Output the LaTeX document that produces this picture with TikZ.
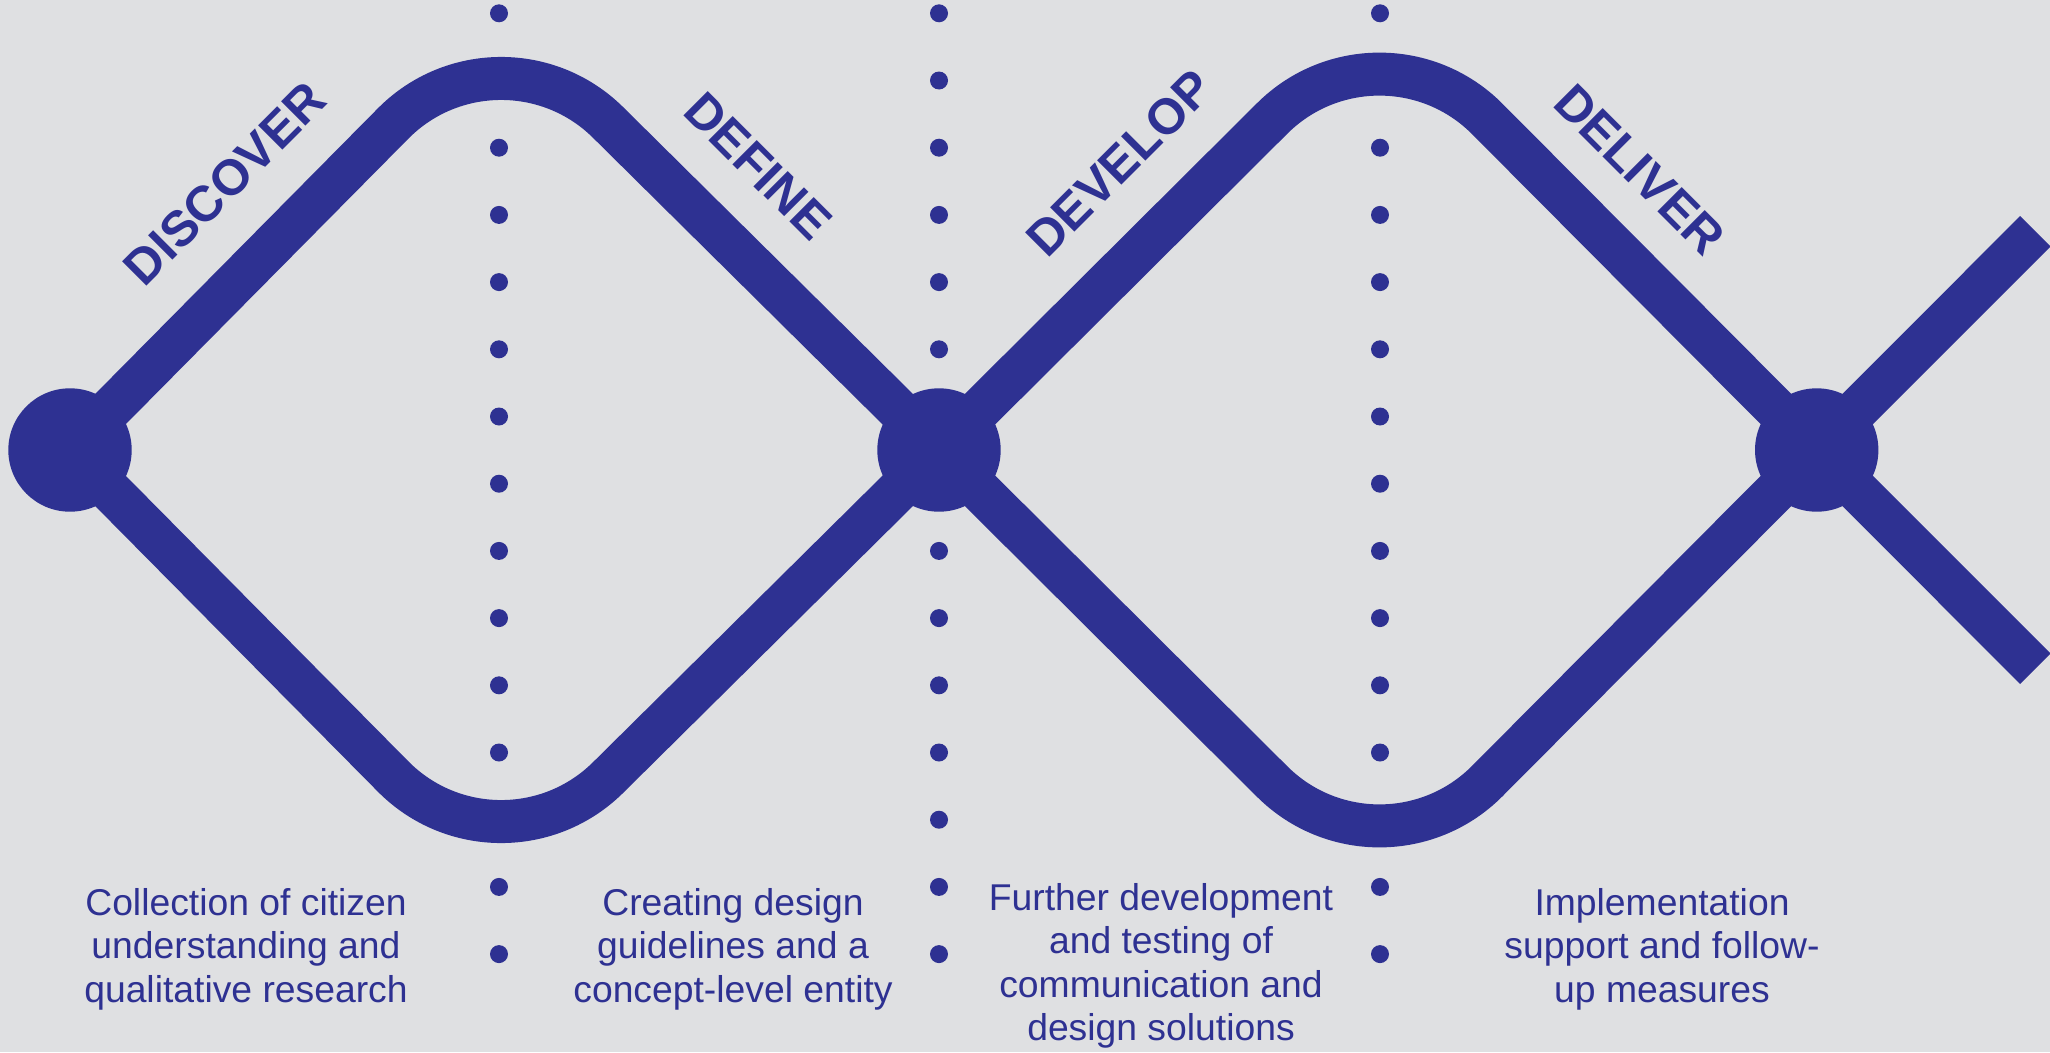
\documentclass[tikz,border=0pt]{standalone}
\usepackage{fontspec}
\setmainfont{Liberation Sans}
\definecolor{ink}{HTML}{2E3192}
\definecolor{paper}{HTML}{DFE0E2}

\begin{document}
\begin{tikzpicture}[x=1pt,y=-1pt,
  track/.style={draw=ink, line width=43pt, rounded corners=152pt},
  hub/.style={circle, fill=ink, minimum size=123.4pt, inner sep=0pt},
  phase/.style={text=ink, font=\fontsize{50}{60}\selectfont\bfseries, inner sep=0pt},
  note/.style={text=ink, font=\fontsize{37.3}{43.4}\selectfont, align=center, inner sep=0pt, anchor=north}]

% canvas
\fill[paper] (0,0) rectangle (2050,1052);
\path[use as bounding box] (0,0) rectangle (2050,1052);

% dotted phase separators
\foreach \x in {499,939,1380}{
  \foreach \k in {0,...,14}{
    \fill[ink] (\x,13.3+67.2*\k) circle[radius=9pt];
  }
}

% key points of the double diamond
\coordinate (a) at (70,450);
\coordinate (b) at (939,450);
\coordinate (c) at (1816.7,450);
\coordinate (t1) at (500,15.5);
\coordinate (u1) at (500,884.5);
\coordinate (t2) at (1380,11.15);
\coordinate (u2) at (1380,888.85);
\coordinate (e1) at (2035.4,231.2);
\coordinate (e2) at (2035.4,668.8);

% diamond outlines
\draw[track] (a) -- (t1) -- (b);
\draw[track] (a) -- (u1) -- (b);
\draw[track] (b) -- (t2) -- (c);
\draw[track] (b) -- (u2) -- (c);
\draw[track] (c) -- (e1);
\draw[track] (c) -- (e2);

% junctions
\node[hub] (na) at (a) {};
\node[hub] (nb) at (b) {};
\node[hub] (nc) at (c) {};

% phase titles along the edges
\node[phase, rotate=45]  (discover) at (225,183.5)   {DISCOVER};
\node[phase, rotate=-45] (define)   at (758,166)     {DEFINE};
\node[phase, rotate=45]  (develop)  at (1119.5,163.3) {DEVELOP};
\node[phase, rotate=-45] (deliver)  at (1640,169.7)  {DELIVER};

% phase descriptions
\node[note] (n1) at (246,888.3)  {Collection of citizen\\understanding and\\qualitative research};
\node[note] (n2) at (733,888.3)  {Creating design\\guidelines and a\\concept-level entity};
\node[note] (n3) at (1161,883.3) {Further development\\and testing of\\communication and\\design solutions};
\node[note] (n4) at (1662,888.3) {Implementation\\support and follow-\\up measures};
\end{tikzpicture}
\end{document}
